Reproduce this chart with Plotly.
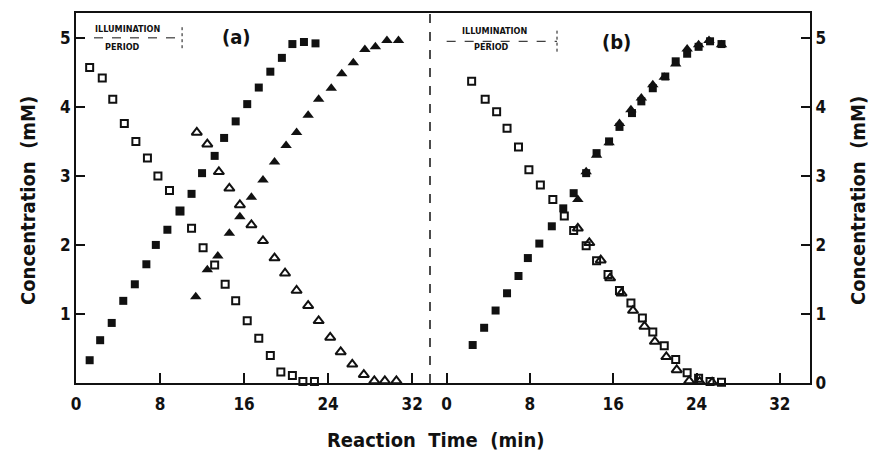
import plotly.graph_objects as go

# ---------------- data (panel a) ----------------
a_open_sq_t = [1.3, 2.5, 3.5, 4.6, 5.7, 6.8, 7.8, 8.9, 9.9, 11.0, 12.1, 13.2, 14.2, 15.2, 16.3, 17.4, 18.5, 19.5, 20.6, 21.6, 22.7]
a_open_sq_c = [4.57, 4.42, 4.11, 3.76, 3.50, 3.26, 3.00, 2.79, 2.49, 2.24, 1.96, 1.71, 1.43, 1.19, 0.90, 0.65, 0.40, 0.16, 0.11, 0.02, 0.02]

a_fill_sq_t = [1.3, 2.3, 3.4, 4.5, 5.6, 6.7, 7.6, 8.7, 9.9, 11.0, 12.0, 13.2, 14.1, 15.2, 16.3, 17.4, 18.5, 19.6, 20.6, 21.7, 22.8]
a_fill_sq_c = [0.33, 0.62, 0.87, 1.19, 1.43, 1.72, 2.00, 2.22, 2.49, 2.74, 3.04, 3.29, 3.55, 3.79, 4.04, 4.28, 4.51, 4.71, 4.91, 4.94, 4.92]

a_open_tr_t = [11.5, 12.5, 13.6, 14.6, 15.6, 16.7, 17.8, 18.9, 19.9, 21.0, 22.1, 23.1, 24.2, 25.2, 26.3, 27.4, 28.4, 29.4, 30.5]
a_open_tr_c = [3.63, 3.46, 3.06, 2.82, 2.58, 2.29, 2.06, 1.81, 1.59, 1.34, 1.12, 0.90, 0.66, 0.45, 0.27, 0.12, 0.03, 0.03, 0.03]

a_fill_tr_t = [11.4, 12.5, 13.5, 14.6, 15.6, 16.7, 17.8, 18.9, 20.0, 21.0, 22.1, 23.1, 24.3, 25.3, 26.4, 27.5, 28.5, 29.6, 30.7]
a_fill_tr_c = [1.25, 1.64, 1.84, 2.17, 2.41, 2.69, 2.94, 3.20, 3.44, 3.63, 3.88, 4.11, 4.27, 4.48, 4.64, 4.83, 4.87, 4.96, 4.96]

# ---------------- data (panel b) ----------------
b_open_sq_t = [2.4, 3.7, 4.8, 5.8, 6.9, 7.9, 9.0, 10.2, 11.3, 12.2, 13.4, 14.4, 15.5, 16.6, 17.7, 18.8, 19.8, 20.9, 22.0, 23.1, 24.2, 25.3, 26.4]
b_open_sq_c = [4.37, 4.11, 3.93, 3.69, 3.42, 3.09, 2.87, 2.66, 2.42, 2.21, 1.99, 1.77, 1.57, 1.34, 1.16, 0.94, 0.74, 0.54, 0.34, 0.15, 0.07, 0.02, 0.01]

b_fill_sq_t = [2.5, 3.6, 4.7, 5.8, 6.9, 7.8, 8.9, 10.1, 11.2, 12.2, 13.4, 14.4, 15.6, 16.6, 17.8, 18.7, 19.8, 21.0, 22.0, 23.1, 24.2, 25.3, 26.4]
b_fill_sq_c = [0.55, 0.80, 1.05, 1.30, 1.55, 1.81, 2.02, 2.27, 2.53, 2.75, 3.04, 3.33, 3.50, 3.71, 3.91, 4.08, 4.27, 4.44, 4.66, 4.77, 4.87, 4.95, 4.91]

b_fill_tr_t = [12.6, 13.4, 14.4, 15.6, 16.6, 17.7, 18.7, 19.8, 20.9, 22.0, 23.1, 24.2, 25.2, 26.4]
b_fill_tr_c = [2.66, 3.06, 3.30, 3.48, 3.76, 3.96, 4.13, 4.32, 4.43, 4.62, 4.84, 4.90, 4.96, 4.90]

b_open_tr_t = [12.6, 13.7, 14.8, 15.7, 16.8, 17.9, 19.0, 20.0, 21.1, 22.1, 23.3, 24.3, 25.5]
b_open_tr_c = [2.24, 2.03, 1.78, 1.52, 1.30, 1.05, 0.82, 0.60, 0.38, 0.19, 0.03, 0.02, 0.01]

x_ticks = [0, 8, 16, 24, 32]
y_ticks_left = [1, 2, 3, 4, 5]
y_ticks_right = [0, 1, 2, 3, 4, 5]

FONT = "DejaVu Sans Condensed, Liberation Sans Narrow, DejaVu Sans, sans-serif"
BLACK = "#111111"

fig = go.Figure()

def add(t, c, symbol, size, xa, ya, open_):
    marker = dict(symbol=symbol, size=size, color=BLACK)
    marker["line"] = dict(color=BLACK, width=2 if open_ else 0)
    fig.add_trace(go.Scatter(x=t, y=c, mode="markers", marker=marker,
                             xaxis=xa, yaxis=ya, showlegend=False, cliponaxis=False,
                             hoverinfo="skip"))

add(a_open_sq_t, a_open_sq_c, "square-open", 7, "x", "y", True)
add(a_fill_sq_t, a_fill_sq_c, "square", 8, "x", "y", False)
add(a_open_tr_t, a_open_tr_c, "triangle-up-open", 9, "x", "y", True)
add(a_fill_tr_t, a_fill_tr_c, "triangle-up", 10, "x", "y", False)

add(b_open_sq_t, b_open_sq_c, "square-open", 7, "x2", "y2", True)
add(b_fill_sq_t, b_fill_sq_c, "square", 8, "x2", "y2", False)
add(b_fill_tr_t, b_fill_tr_c, "triangle-up", 10, "x2", "y2", False)
add(b_open_tr_t, b_open_tr_c, "triangle-up-open", 9, "x2", "y2", True)

split = (430 - 76) / 734.0
tickfont = dict(family=FONT, size=17, color=BLACK, weight="bold")
axis_common = dict(showgrid=False, zeroline=False, showline=True, linecolor=BLACK,
                   linewidth=2, ticks="inside", tickcolor=BLACK, tickwidth=2,
                   tickfont=tickfont)

fig.update_layout(
    width=872, height=451,
    margin=dict(l=76, r=62, t=13, b=68),
    paper_bgcolor="white", plot_bgcolor="white",
    xaxis=dict(domain=[0, split], range=[0, 33.7], tickvals=x_ticks, ticklen=10,
               anchor="y", mirror=True, ticklabelstandoff=5, **axis_common),
    yaxis=dict(range=[0, 5.36], tickvals=y_ticks_left, ticklen=9, anchor="x", **axis_common),
    xaxis2=dict(domain=[split, 1], range=[-1.6, 34.9], tickvals=x_ticks, ticklen=10,
                anchor="y2", mirror=True, ticklabelstandoff=5, **axis_common),
    yaxis2=dict(range=[0, 5.36], tickvals=y_ticks_right, ticklen=9, anchor="x2",
                side="right", **axis_common),
)

# dashed divider between panels
fig.add_shape(type="line", xref="paper", yref="paper", x0=split, x1=split, y0=0, y1=1,
              line=dict(color=BLACK, width=1.5, dash="dash"))

# illumination period markers
fig.add_shape(type="line", xref="x", yref="y", x0=0, x1=10.1, y0=5.0, y1=5.0,
              line=dict(color=BLACK, width=1, dash="dash"))
fig.add_shape(type="line", xref="x", yref="y", x0=10.1, x1=10.1, y0=4.85, y1=5.17,
              line=dict(color=BLACK, width=1, dash="dot"))
fig.add_shape(type="line", xref="x2", yref="y2", x0=0, x1=10.6, y0=4.95, y1=4.95,
              line=dict(color=BLACK, width=1, dash="dash"))
fig.add_shape(type="line", xref="x2", yref="y2", x0=10.6, x1=10.6, y0=4.8, y1=5.12,
              line=dict(color=BLACK, width=1, dash="dot"))

def note(x, y, xref, yref, text, font, **kw):
    fig.add_annotation(x=x, y=y, xref=xref, yref=yref, text=text, showarrow=False,
                       font=font, xanchor="center", yanchor="middle", **kw)

small = dict(family=FONT, size=9, color=BLACK, weight="bold")
note(4.86, 5.13, "x", "y", "ILLUMINATION", small)
note(4.4, 4.87, "x", "y", "PERIOD", small)
note(4.6, 5.10, "x2", "y2", "ILLUMINATION", small)
note(4.3, 4.87, "x2", "y2", "PERIOD", small)

lab = dict(family=FONT, size=20, color=BLACK, weight="bold")
note(15.3, 5.01, "x", "y", "(a)", lab)
note(16.3, 4.94, "x2", "y2", "(b)", lab)

title_font = dict(family=FONT, size=20, color=BLACK, weight="bold")
note((435 - 76) / 734.0, (383 - 440) / 370.0, "paper", "paper", "Reaction  Time  (min)", title_font)
note((28 - 76) / 734.0, (383 - 201) / 370.0, "paper", "paper", "Concentration  (mM)", title_font, textangle=-90)
note((858 - 76) / 734.0, (383 - 201) / 370.0, "paper", "paper", "Concentration  (mM)", title_font, textangle=-90)

fig.write_html("out.html", config={"displayModeBar": False},
               post_script="document.body.style.margin='0';document.body.style.padding='0';")
